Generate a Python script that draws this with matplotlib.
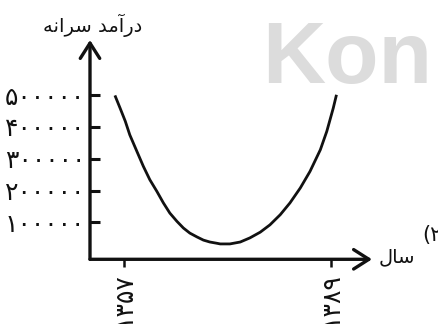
import matplotlib
matplotlib.use("Agg")
import matplotlib.pyplot as plt

# ---- data ----
years = [1355.6, 1356.4, 1357.2, 1357.9, 1359.0, 1360.0, 1361.0, 1362.1, 1363.1,
         1364.1, 1365.2, 1366.2, 1367.2, 1368.3, 1369.3, 1370.3, 1371.4, 1371.9,
         1373.4, 1375.0, 1376.5, 1378.1, 1379.6, 1381.2, 1382.7, 1384.3, 1385.8,
         1387.4, 1388.4, 1389.4, 1389.9]
income = [499000, 459000, 418000, 375000, 323000, 276000, 234000, 197000, 161000,
          129000, 103000, 82000, 66000, 54000, 44000, 38000, 34000, 32000,
          32000, 38000, 51000, 69000, 92000, 124000, 161000, 208000, 260000,
          328000, 386000, 459000, 501000]
y_ticks = [100000, 200000, 300000, 400000, 500000]
y_tick_labels = ["۱۰۰۰۰۰", "۲۰۰۰۰۰", "۳۰۰۰۰۰", "۴۰۰۰۰۰", "۵۰۰۰۰۰"]
x_ticks = [1357, 1389]
x_tick_labels = ["۱۳۵۷", "۱۳۸۹"]
# Persian text, pre-shaped in visual order (presentation forms)
y_label = "\uFEEA\uFEE7\uFE8D\uFEAE\uFEB3 \uFEAA\uFEE3\uFE81\uFEAD\uFEA9"   # درآمد سرانه
x_label = "\uFEDD\uFE8E\uFEB3"                                            # سال
option_label = "(۲"
watermark = "Kon"

plt.rcParams['font.family'] = ['DejaVu Sans']

fig = plt.figure(figsize=(4.39, 3.24), dpi=100)
fig.patch.set_facecolor('white')

# watermark
fig.text(262 / 439, 1 - 83 / 324, watermark, fontsize=63, fontweight='bold',
         family='Liberation Sans', color='#dcdcdc', ha='left', va='baseline', zorder=0)

ax = fig.add_axes([90 / 439, 1 - 259.3 / 324, (372 - 90) / 439, (259.3 - 40) / 324])
ax.patch.set_alpha(0)
ax.set_xlim(1351.74, 1395.40)
ax.set_ylim(-16350, 673270)

ax.plot(years, income, color='#111111', lw=2.0, solid_capstyle='butt', solid_joinstyle='round')

for s in ax.spines.values():
    s.set_visible(False)

# axes with arrow heads
arrow_kw = dict(arrowstyle='->,head_length=0.55,head_width=0.35',
                lw=2.4, color='#111111', shrinkA=0, shrinkB=0, mutation_scale=20)
ax.annotate('', xy=(0, 1), xytext=(0, 0), xycoords='axes fraction', arrowprops=arrow_kw)
ax.annotate('', xy=(1, 0), xytext=(0, 0), xycoords='axes fraction', arrowprops=arrow_kw)

ax.set_yticks(y_ticks)
ax.set_yticklabels(y_tick_labels, fontsize=18)
ax.tick_params(axis='y', direction='in', length=7.5, width=2.2, pad=3.5, colors='#111111')
ax.set_xticks(x_ticks)
ax.set_xticklabels(x_tick_labels, fontsize=18, rotation=90, va='top', ha='center')
ax.tick_params(axis='x', direction='out', length=6, width=1.8, pad=3.5, colors='#111111')

fig.text(93 / 439, 1 - 25 / 324, y_label, fontsize=14, ha='center', va='center', color='#111111')
fig.text(379 / 439, 1 - 257 / 324, x_label, fontsize=14, ha='left', va='center', color='#111111')
fig.text(422 / 439, 1 - 235 / 324, option_label, fontsize=15, ha='left', va='center', color='#111111')

fig.savefig('out.png', dpi=100)
